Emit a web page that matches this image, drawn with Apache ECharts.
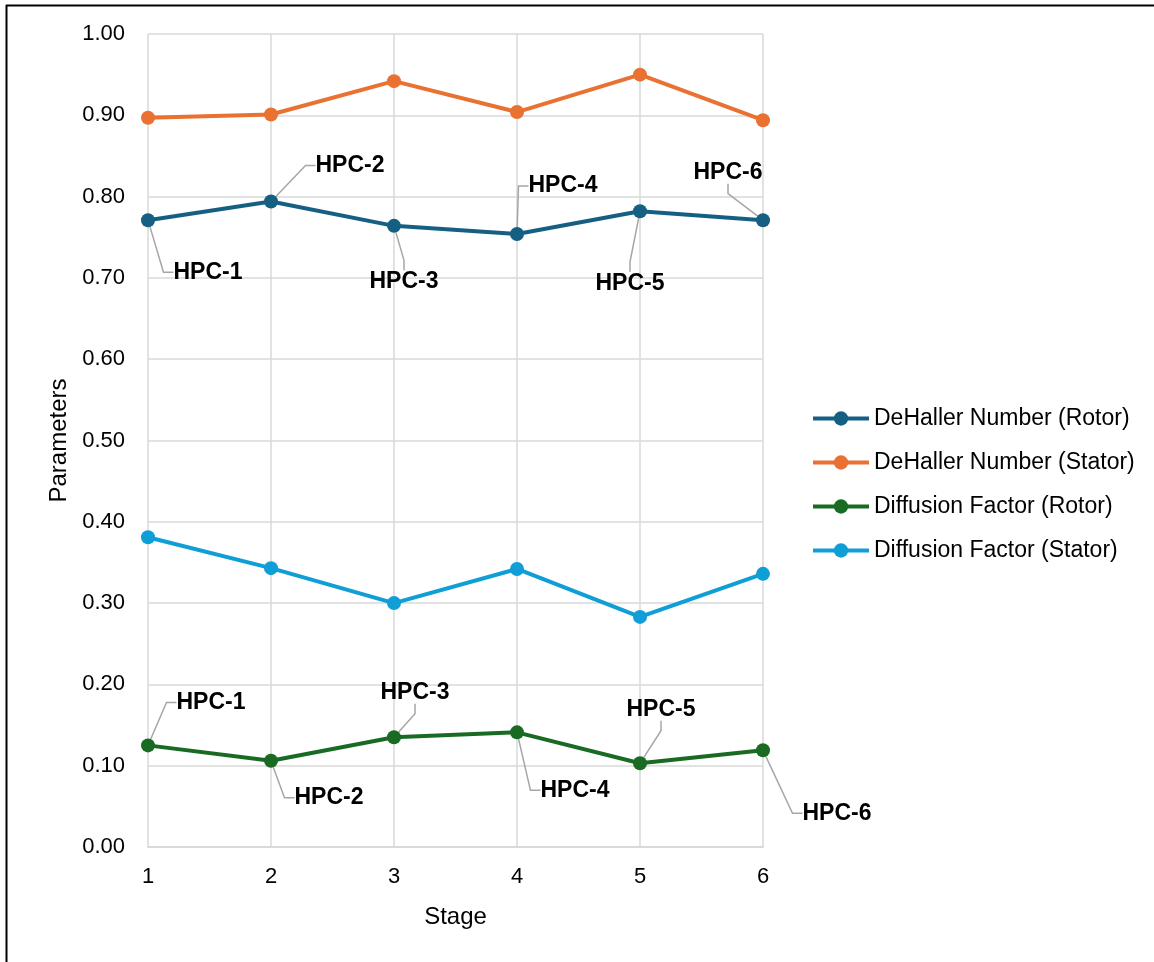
<!DOCTYPE html>
<html>
<head>
<meta charset="utf-8">
<script src="https://cdn.jsdelivr.net/npm/echarts@6/dist/echarts.min.js"></script>
<style>
  html, body { margin: 0; padding: 0; background: #ffffff; }
  #chart { width: 1154px; height: 962px; }
</style>
</head>
<body>
<div id="chart"></div>
<script>
// Compressor stage parameters
const stages = [1, 2, 3, 4, 5, 6];
const stageNames = ['HPC-1', 'HPC-2', 'HPC-3', 'HPC-4', 'HPC-5', 'HPC-6'];
const dehallerRotor = [0.771, 0.794, 0.764, 0.754, 0.782, 0.771];
const dehallerStator = [0.897, 0.901, 0.942, 0.904, 0.950, 0.894];
const diffusionRotor = [0.125, 0.106, 0.135, 0.141, 0.103, 0.119];
const diffusionStator = [0.381, 0.343, 0.300, 0.342, 0.283, 0.336];
const seriesNames = [
  'DeHaller Number (Rotor)',
  'DeHaller Number (Stator)',
  'Diffusion Factor (Rotor)',
  'Diffusion Factor (Stator)'
];

// Callout placement (pixel shifts of each stage label from its point)
const rotorCallouts = [[60, 52], [79, -36], [10, 56], [46, -48], [-10, 72], [-35, -48]];
const diffusionCallouts = [[63, -43], [58, 37], [21, -45], [58, 58], [21, -54], [74, 63]];

const colors = ['#156082', '#E97132', '#196B24', '#0F9ED5'];
const FONT = 'Liberation Sans';

function pairs(values) {
  return stages.map((s, i) => [s, values[i]]);
}

function lineSeries(name, values, color, callouts) {
  const s = {
    name: name,
    type: 'line',
    data: pairs(values),
    symbol: 'circle',
    symbolSize: 14,
    lineStyle: { color: color, width: 4 },
    itemStyle: { color: color },
    z: 3
  };
  if (callouts) {
    s.label = {
      show: true,
      position: 'inside',
      formatter: p => stageNames[p.dataIndex],
      fontFamily: FONT,
      fontWeight: 'bold',
      fontSize: 23,
      color: '#000000'
    };
    s.labelLine = {
      show: true,
      length2: 10,
      lineStyle: { color: '#a6a6a6', width: 1.5 }
    };
    s.labelLayout = p => ({ dx: callouts[p.dataIndex][0], dy: callouts[p.dataIndex][1] });
  }
  return s;
}

const chart = echarts.init(document.getElementById('chart'), null, { renderer: 'canvas' });
chart.setOption({
  animation: false,
  backgroundColor: '#ffffff',
  grid: { left: 148, right: 391, top: 34, bottom: 115 },
  xAxis: {
    type: 'value',
    min: 1, max: 6, interval: 1,
    name: 'Stage',
    nameLocation: 'middle',
    nameGap: 58,
    nameTextStyle: { fontFamily: FONT, fontSize: 24, color: '#000000' },
    axisLine: { show: true, lineStyle: { color: '#d9d9d9', width: 2 } },
    axisTick: { show: false },
    axisLabel: { fontFamily: FONT, fontSize: 22, color: '#000000', margin: 19 },
    splitLine: { show: true, lineStyle: { color: '#d9d9d9', width: 1.5 } }
  },
  yAxis: {
    type: 'value',
    min: 0, max: 1, interval: 0.1,
    name: 'Parameters',
    nameLocation: 'middle',
    nameGap: 77,
    nameTextStyle: { fontFamily: FONT, fontSize: 24, color: '#000000' },
    axisLine: { show: false },
    axisTick: { show: false },
    axisLabel: {
      fontFamily: FONT, fontSize: 22, color: '#000000', margin: 23,
      formatter: v => v.toFixed(2)
    },
    splitLine: { show: true, lineStyle: { color: '#d9d9d9', width: 1.5 } }
  },
  legend: {
    orient: 'vertical',
    left: 806,
    top: 402,
    itemWidth: 56,
    itemHeight: 18,
    itemGap: 21,
    lineStyle: { width: 4 },
    textStyle: { fontFamily: FONT, fontSize: 23, color: '#000000' },
    data: seriesNames
  },
  graphic: [
    { type: 'line', shape: { x1: 6.5, y1: 5, x2: 6.5, y2: 962 }, style: { stroke: '#000000', lineWidth: 2 } },
    { type: 'line', shape: { x1: 6, y1: 5.5, x2: 1154, y2: 5.5 }, style: { stroke: '#000000', lineWidth: 2 } }
  ],
  series: [
    lineSeries(seriesNames[0], dehallerRotor, colors[0], rotorCallouts),
    lineSeries(seriesNames[1], dehallerStator, colors[1], null),
    lineSeries(seriesNames[2], diffusionRotor, colors[2], diffusionCallouts),
    lineSeries(seriesNames[3], diffusionStator, colors[3], null)
  ]
});
</script>
</body>
</html>
